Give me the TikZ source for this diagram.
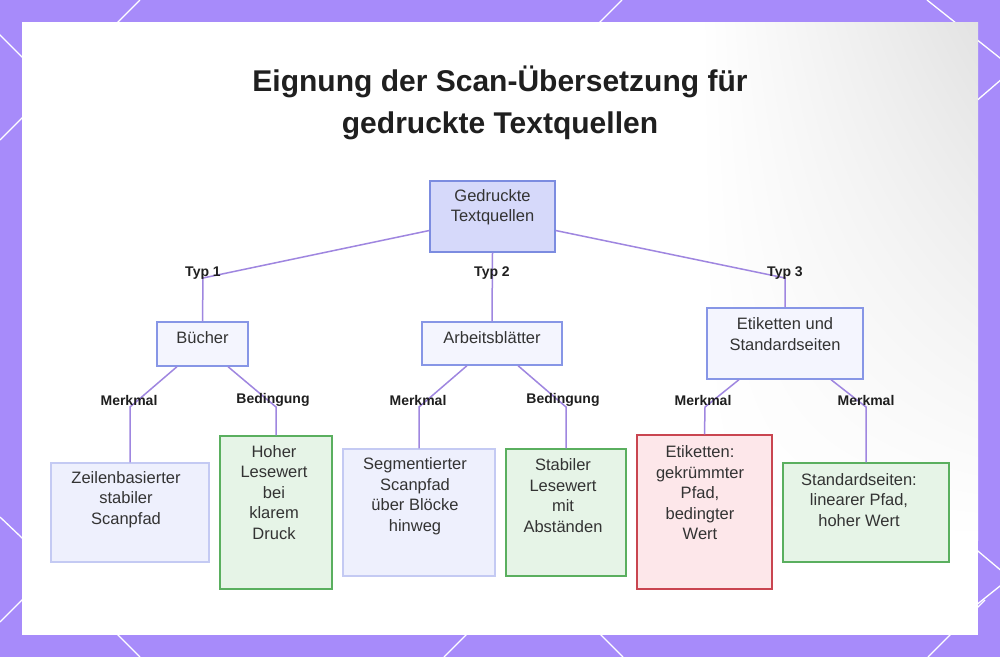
\documentclass[tikz,border=0pt]{standalone}
\usepackage{fontspec}
\setmainfont{Liberation Sans}
\usetikzlibrary{calc,shadings}
\definecolor{bgpurple}{HTML}{A78BFA}
\definecolor{edgec}{HTML}{9F86E0}
\definecolor{rootfill}{HTML}{D6D9FA}
\definecolor{rootdraw}{HTML}{7C8CE0}
\definecolor{midfill}{HTML}{F4F5FE}
\definecolor{middraw}{HTML}{8796E6}
\definecolor{lavfill}{HTML}{EEF0FD}
\definecolor{lavdraw}{HTML}{C4CAF3}
\definecolor{grfill}{HTML}{E6F4E7}
\definecolor{grdraw}{HTML}{5AAF5F}
\definecolor{rdfill}{HTML}{FDE7EA}
\definecolor{rddraw}{HTML}{C94550}
\definecolor{txtc}{HTML}{333333}
\tikzset{
  bgline/.style={draw=white, line width=1.3pt},
  edge/.style={draw=edgec, line width=1.5pt},
  lbl/.style={font=\fontsize{14}{16}\selectfont\bfseries, text=black!88, inner sep=0pt},
  txt/.style={font=\fontsize{16.5}{20.5}\selectfont, text=txtc, align=center, inner sep=0pt},
  rootbox/.style={draw=rootdraw, fill=rootfill, line width=1.3pt, inner sep=0pt},
  midbox/.style={draw=middraw, fill=midfill, line width=1.3pt, inner sep=0pt},
  lavbox/.style={draw=lavdraw, fill=lavfill, line width=1.3pt, inner sep=0pt},
  grbox/.style={draw=grdraw, fill=grfill, line width=1.3pt, inner sep=0pt},
  rdbox/.style={draw=rddraw, fill=rdfill, line width=1.3pt, inner sep=0pt},
}
\begin{document}
\begin{tikzpicture}[x=1pt,y=-1pt]
\useasboundingbox (0,0) rectangle (1000,657);
% background
\fill[bgpurple] (0,0) rectangle (1000,657);
\draw[bgline] (140,0) -- (0,140);
\draw[bgline] (-10,25) -- (40,75);
\draw[bgline] (622,0) -- (580,42);
\draw[bgline] (927,0) -- (1010,66);
\draw[bgline] (1010,72) -- (960,115);
\draw[bgline] (960,536) -- (1010,578);
\draw[bgline] (960,618) -- (1010,578);
\draw[bgline] (985,600) -- (928,657);
\draw[bgline] (600,634) -- (623,657);
\draw[bgline] (467,634) -- (444,657);
\draw[bgline] (117,634) -- (140,657);
\draw[bgline] (0,517) -- (40,555);
\draw[bgline] (0,622) -- (40,582);
% panel
\fill[white] (22,22) rectangle (978,635);
\shade[upper left=white, upper right=black!11, lower left=white, lower right=white] (700,22) rectangle (978,540);
\draw[white, line width=0.8pt] (915,578) circle (38);
% title
\node[align=center, inner sep=0, text=black!88, font=\fontsize{30}{42}\selectfont\bfseries] (title) at (500,103) {Eignung der Scan-Übersetzung für\\gedruckte Textquellen};
% boxes
\node[rootbox, minimum width=125pt, minimum height=71pt] (root) at (492.5,216.5) {};
\node[txt] (roott) at (492.5,207) {Gedruckte\\Textquellen};
\node[midbox, minimum width=91pt, minimum height=44pt] (b1) at (202.5,344) {};
\node[txt] (b1t) at (202.5,338) {Bücher};
\node[midbox, minimum width=140pt, minimum height=43pt] (b2) at (492,343.5) {};
\node[txt] (b2t) at (492,338) {Arbeitsblätter};
\node[midbox, minimum width=156pt, minimum height=71pt] (b3) at (785,343.5) {};
\node[txt] (b3t) at (785,334) {Etiketten und\\Standardseiten};
\node[lavbox, minimum width=158pt, minimum height=99pt] (c1) at (130,512.5) {};
\node[txt] (c1t) at (126,499.5) {Zeilenbasierter\\stabiler\\Scanpfad};
\node[grbox, minimum width=112pt, minimum height=153pt] (c2) at (276,512.5) {};
\node[txt] (c2t) at (274,492.5) {Hoher\\Lesewert\\bei\\klarem\\Druck};
\node[lavbox, minimum width=152pt, minimum height=127pt] (c3) at (419,512.5) {};
\node[txt] (c3t) at (415,496) {Segmentierter\\Scanpfad\\über Blöcke\\hinweg};
\node[grbox, minimum width=120pt, minimum height=127pt] (c4) at (566,512.5) {};
\node[txt] (c4t) at (563,495.5) {Stabiler\\Lesewert\\mit\\Abständen};
\node[rdbox, minimum width=135pt, minimum height=154pt] (c5) at (704.5,512) {};
\node[txt] (c5t) at (700,493) {Etiketten:\\gekrümmter\\Pfad,\\bedingter\\Wert};
\node[grbox, minimum width=166pt, minimum height=99pt] (c6) at (866,512.5) {};
\node[txt] (c6t) at (859,500) {Standardseiten:\\linearer Pfad,\\hoher Wert};
% corners
\coordinate (k1) at (203,278);
\coordinate (k3) at (785,278);
\coordinate (m1) at (130,407);
\coordinate (m2) at (276,407);
\coordinate (m3) at (419,407);
\coordinate (m4) at (566,407);
\coordinate (m5) at (705,407);
\coordinate (m6) at (866,407);
% edges
\draw[edge] ([yshift=-14pt]root.west) -- (k1) -- (b1.north);
\draw[edge] (root.south) -- (b2.north);
\draw[edge] ([yshift=-14pt]root.east) -- (k3) -- (b3.north);
\draw[edge] ([xshift=-25.5pt]b1.south) -- (m1) -- (c1.north);
\draw[edge] ([xshift=25.5pt]b1.south) -- (m2) -- (c2.north);
\draw[edge] ([xshift=-25pt]b2.south) -- (m3) -- (c3.north);
\draw[edge] ([xshift=26pt]b2.south) -- (m4) -- (c4.north);
\draw[edge] ([xshift=-46pt]b3.south) -- (m5) -- (c5.north);
\draw[edge] ([xshift=46pt]b3.south) -- (m6) -- (c6.north);
% labels
\node[lbl] (l1) at (203,273) {Typ 1};
\node[lbl] (l2) at (492,273) {Typ 2};
\node[lbl] (l3) at (785,273) {Typ 3};
\node[lbl] (l4) at (129,400) {Merkmal};
\node[lbl] (l5) at (273,400) {Bedingung};
\node[lbl] (l6) at (418,400) {Merkmal};
\node[lbl] (l7) at (563,400) {Bedingung};
\node[lbl] (l8) at (703,400) {Merkmal};
\node[lbl] (l9) at (866,400) {Merkmal};
\end{tikzpicture}
\end{document}
